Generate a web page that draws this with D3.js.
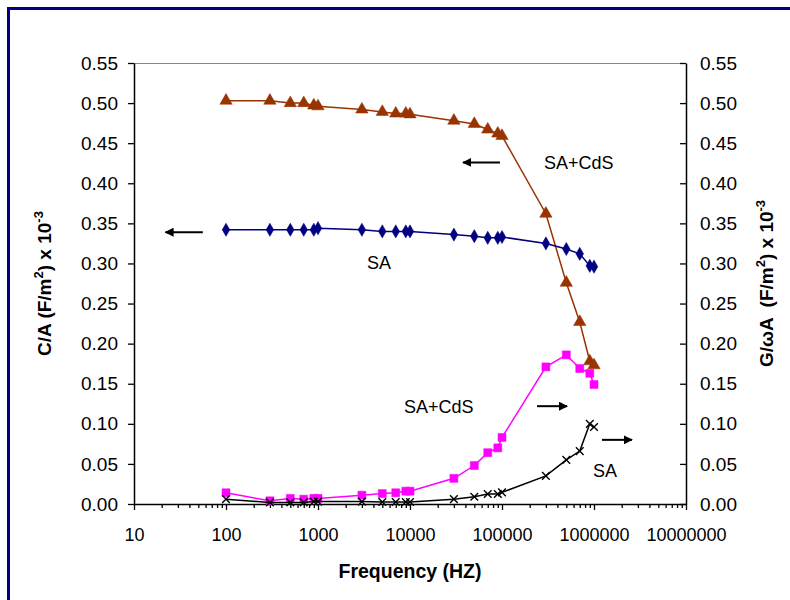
<!DOCTYPE html>
<html>
<head>
<meta charset="utf-8">
<script src="https://cdn.jsdelivr.net/npm/d3@7"></script>
<style>
	body { margin: 0; background: #fff; }
	text { font-family: Arial, "Liberation Sans", sans-serif; }
</style>
</head>
<body>
<div id="chart"></div>
<script>
// frequencies (Hz)
var freq = [100, 300, 500, 700, 900, 1000, 3000, 5000, 7000, 9000, 10000,
	30000, 50000, 70000, 90000, 100000, 300000, 500000, 700000, 900000, 1000000];

// C/A, left axis
var caCdS = [0.503, 0.503, 0.500, 0.500, 0.497, 0.496, 0.492, 0.489, 0.487, 0.487, 0.486,
	0.478, 0.474, 0.467, 0.462, 0.459, 0.362, 0.276, 0.227, 0.178, 0.173];
var caSA = [0.342, 0.342, 0.342, 0.342, 0.342, 0.344, 0.342, 0.340, 0.340, 0.340, 0.340,
	0.336, 0.334, 0.332, 0.332, 0.333, 0.325, 0.318, 0.312, 0.297, 0.296];

// G/wA, right axis
var gCdS = [0.014, 0.004, 0.007, 0.006, 0.007, 0.007, 0.011, 0.013, 0.014, 0.016, 0.016,
	0.032, 0.048, 0.064, 0.070, 0.083, 0.171, 0.186, 0.169, 0.163, 0.149];
var gSA = [0.006, 0.002, 0.002, 0.002, 0.003, 0.003, 0.003, 0.0025, 0.0025, 0.0025, 0.0025,
	0.006, 0.009, 0.0125, 0.0125, 0.0145, 0.035, 0.055, 0.066, 0.100, 0.096];

var xTicks = [10, 100, 1000, 10000, 100000, 1000000, 10000000];
var yTicks = [0, 0.05, 0.10, 0.15, 0.20, 0.25, 0.30, 0.35, 0.40, 0.45, 0.50, 0.55];

// text labels and arrows, in data units (freq, value)
var labels = [
	{ text: "SA+CdS", f: 286000, v: 0.418 },
	{ text: "SA", f: 3410, v: 0.293 },
	{ text: "SA+CdS", f: 8600, v: 0.1135 },
	{ text: "SA", f: 975000, v: 0.034 }
];
var arrows = [
	{ from: 56, to: 22, v: 0.339 },
	{ from: 95000, to: 37700, v: 0.426 },
	{ from: 240000, to: 510000, v: 0.122 },
	{ from: 1220000, to: 2590000, v: 0.080 }
];

var W = 790, H = 600;
var pLeft = 134, pRight = 686, pTop = 63, pBottom = 504;

var svg = d3.select("#chart")
	.append("svg")
	.attr("width", W)
	.attr("height", H);

svg.append("rect")
	.attr("width", W).attr("height", H)
	.attr("fill", "#fff");

// outer navy frame, runs off the right/bottom edge
svg.append("rect")
	.attr("x", 8.5).attr("y", 8.5)
	.attr("width", 900).attr("height", 800)
	.attr("fill", "none")
	.attr("stroke", "#000080")
	.attr("stroke-width", 3);

var x = d3.scaleLog().domain([10, 10000000]).range([pLeft, pRight]);
var y = d3.scaleLinear().domain([0, 0.55]).range([pBottom, pTop]);

// top edge of plot area
svg.append("line")
	.attr("x1", pLeft).attr("x2", pRight)
	.attr("y1", pTop + 0.5).attr("y2", pTop + 0.5)
	.attr("stroke", "#888").attr("stroke-width", 1);

// minor ticks on log axis
var minor = [];
for (var k = 1; k < 7; k++) {
	for (var m = 2; m < 10; m++) minor.push(m * Math.pow(10, k));
}
svg.append("g")
	.attr("transform", "translate(0," + pBottom + ")")
	.call(d3.axisBottom(x).tickValues(minor).tickSize(4).tickFormat(""))
	.call(function(g) { g.select(".domain").remove(); });

var xAxis = svg.append("g")
	.attr("transform", "translate(0," + pBottom + ")")
	.call(d3.axisBottom(x).tickValues(xTicks).tickSize(6).tickSizeOuter(0)
		.tickFormat(function(d) { return d3.format("d")(d); }));
xAxis.selectAll("text").attr("dy", null).attr("y", 37).attr("font-size", "18px");

var yLeft = svg.append("g")
	.attr("transform", "translate(" + pLeft + ",0)")
	.call(d3.axisLeft(y).tickValues(yTicks).tickSize(6).tickSizeOuter(0).tickFormat(d3.format(".2f")));
yLeft.selectAll("text").attr("x", -16).attr("font-size", "19px");

var yRight = svg.append("g")
	.attr("transform", "translate(" + pRight + ",0)")
	.call(d3.axisRight(y).tickValues(yTicks).tickSize(-6).tickSizeOuter(0).tickFormat(d3.format(".2f")));
yRight.selectAll("text").attr("x", 14).attr("font-size", "19px");

svg.selectAll(".domain").attr("stroke", "#000").attr("stroke-width", 1.5);
svg.selectAll(".tick line").attr("stroke", "#000").attr("stroke-width", 1.3);
svg.selectAll(".tick text").attr("fill", "#000").attr("font-family", "Arial, 'Liberation Sans', sans-serif");

// axis titles
svg.append("text")
	.attr("x", (pLeft + pRight) / 2)
	.attr("y", 578)
	.attr("text-anchor", "middle")
	.attr("font-size", "19.5px")
	.attr("font-weight", "bold")
	.text("Frequency (HZ)");

function axisTitle(tx, parts) {
	var t = svg.append("text")
		.attr("transform", "translate(" + tx + "," + ((pTop + pBottom) / 2) + ") rotate(-90)")
		.attr("text-anchor", "middle")
		.attr("font-size", "19px")
		.attr("font-weight", "bold")
		.style("white-space", "pre");
	parts.forEach(function(p) {
		t.append("tspan")
			.attr("font-size", p.sup ? "13px" : null)
			.attr("dy", p.sup ? -8 : (p.after ? 8 : null))
			.text(p.s);
	});
}
axisTitle(51, [
	{ s: "C/A (F/m" }, { s: "2", sup: true }, { s: ") x 10", after: true }, { s: "-3", sup: true }
]);
axisTitle(773, [
	{ s: "G/\u03c9A  (F/m" }, { s: "2", sup: true }, { s: ") x 10", after: true }, { s: "-3", sup: true }
]);

// series
var series = [
	{ vals: caCdS, color: "#993300", shape: "tri" },
	{ vals: caSA, color: "#000080", shape: "dia" },
	{ vals: gCdS, color: "#ff00ff", shape: "sq" },
	{ vals: gSA, color: "#000000", shape: "x" }
];

var line = d3.line()
	.x(function(d) { return x(d.f); })
	.y(function(d) { return y(d.v); });

var symbols = {
	tri: d3.symbol().type(d3.symbolTriangle).size(66),
	dia: d3.symbol().type(d3.symbolDiamond).size(50),
	sq: d3.symbol().type(d3.symbolSquare).size(64),
	x: d3.symbol().type(d3.symbolX).size(40)
};

series.forEach(function(s) {
	var pts = freq.map(function(f, i) { return { f: f, v: s.vals[i] }; });
	svg.append("path")
		.datum(pts)
		.attr("d", line)
		.attr("fill", "none")
		.attr("stroke", s.color)
		.attr("stroke-width", 1.5);
	svg.selectAll(null)
		.data(pts)
		.enter()
		.append("path")
		.attr("transform", function(d) { return "translate(" + x(d.f) + "," + y(d.v) + ")"; })
		.attr("d", symbols[s.shape])
		.attr("fill", s.shape == "x" ? "none" : s.color)
		.attr("stroke", s.color)
		.attr("stroke-width", s.shape == "x" ? 1.4 : 0.5);
});

// annotations
svg.selectAll(null)
	.data(labels)
	.enter()
	.append("text")
	.attr("x", function(d) { return x(d.f); })
	.attr("y", function(d) { return y(d.v); })
	.attr("font-size", "18px")
	.attr("fill", "#000")
	.text(function(d) { return d.text; });

svg.append("defs").append("marker")
	.attr("id", "head")
	.attr("viewBox", "0 0 10 10")
	.attr("refX", 9).attr("refY", 5)
	.attr("markerWidth", 4.5).attr("markerHeight", 4.5)
	.attr("orient", "auto")
	.append("path")
	.attr("d", "M0,0 L10,5 L0,10 Z")
	.attr("fill", "#000");

svg.selectAll(null)
	.data(arrows)
	.enter()
	.append("line")
	.attr("x1", function(d) { return x(d.from); })
	.attr("x2", function(d) { return x(d.to); })
	.attr("y1", function(d) { return y(d.v); })
	.attr("y2", function(d) { return y(d.v); })
	.attr("stroke", "#000")
	.attr("stroke-width", 2)
	.attr("marker-end", "url(#head)");
</script>
</body>
</html>
